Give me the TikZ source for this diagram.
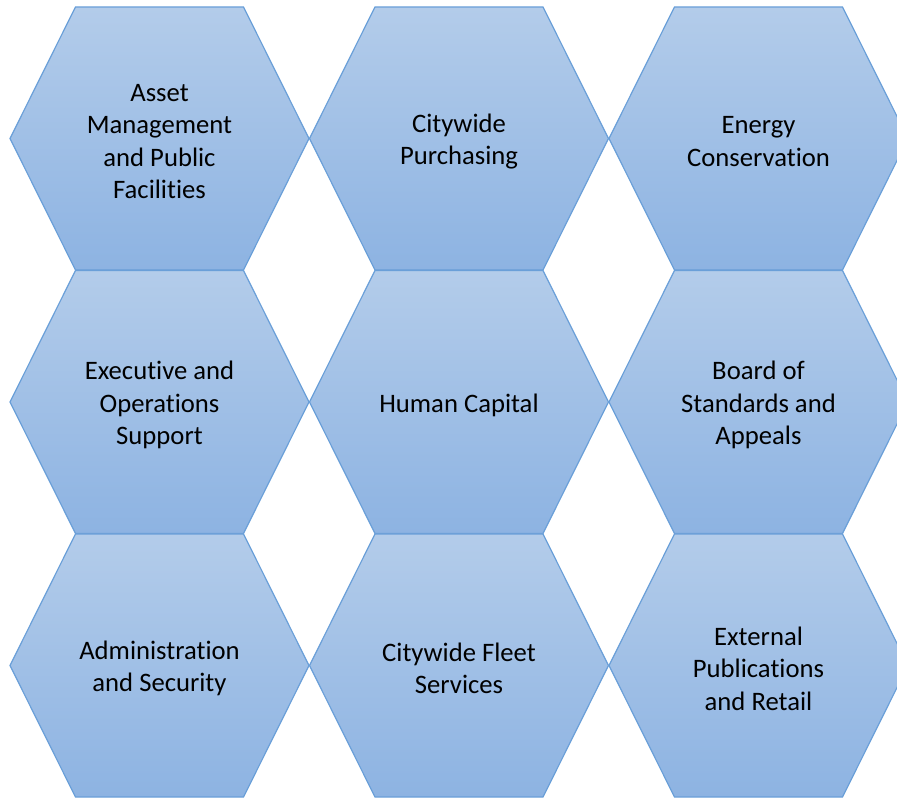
\documentclass[tikz,border=0pt]{standalone}
\usepackage{fontspec}
\setmainfont{Carlito}[Ligatures=NoCommon]
\usetikzlibrary{calc}

\definecolor{hexTop}{HTML}{B3CCEA}
\definecolor{hexBottom}{HTML}{8DB3E2}
\definecolor{hexLine}{HTML}{6A9FD8}

\begin{document}
\begin{tikzpicture}[x=0.75pt, y=-0.75pt,
  cell/.style={top color=hexTop, bottom color=hexBottom, draw=hexLine, line width=0.9pt},
  celltext/.style={align=center, text=black, inner sep=0pt, font=\fontsize{20}{24.4}\selectfont}]
\useasboundingbox (0, 0) rectangle (897, 798);
\clip (0, 0) rectangle (897, 798);

% 3 x 3 honeycomb, column/row/name/text
\foreach \col/\row/\name/\txt in {
  0/0/asset/{Asset\\Management\\and Public\\Facilities},
  1/0/purchasing/{Citywide\\Purchasing},
  2/0/energy/{Energy\\Conservation},
  0/1/executive/{Executive and\\Operations\\Support},
  1/1/capital/{Human Capital},
  2/1/standards/{Board of\\Standards and\\Appeals},
  0/2/admin/{Administration\\and Security},
  1/2/fleet/{Citywide Fleet\\Services},
  2/2/publications/{External\\Publications\\and Retail}}
{
  \coordinate (\name-c) at ({159.5 + 299.5*\col}, {138.5 + 263.5*\row});
  \draw [cell] ($(\name-c) + (-149.5, 0)$) -- ++(65.5, -131.5) -- ++(168, 0)
    -- ++(65.5, 131.5) -- ++(-65.5, 131.5) -- ++(-168, 0) -- cycle;
  \node [celltext] (\name) at ($(\name-c) + (0, 3)$) {\txt};
}

\end{tikzpicture}
\end{document}
